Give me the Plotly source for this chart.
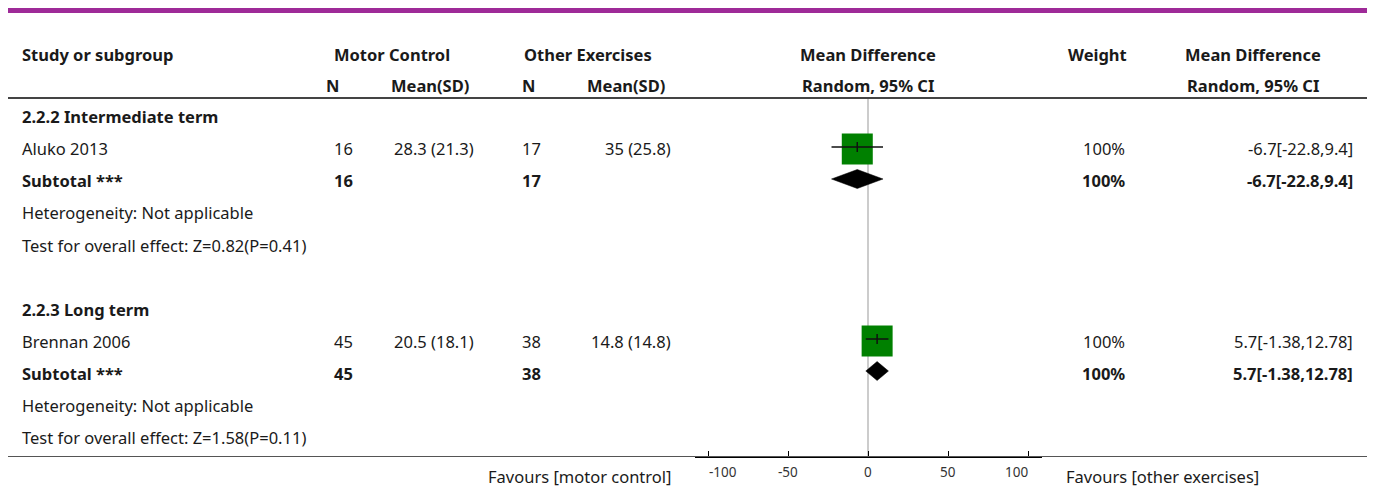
import plotly.graph_objects as go

# ---------------- data ----------------
subgroups = ["2.2.2 Intermediate term", "2.2.3 Long term"]
studies = ["Aluko 2013", "Brennan 2006"]
mc_n = [16, 45]
mc_mean = [28.3, 20.5]
mc_sd = [21.3, 18.1]
oe_n = [17, 38]
oe_mean = [35, 14.8]
oe_sd = [25.8, 14.8]
md = [-6.7, 5.7]
ci_lo = [-22.8, -1.38]
ci_hi = [9.4, 12.78]
weights = ["100%", "100%"]
heterogeneity = ["Not applicable", "Not applicable"]
z_vals = [0.82, 1.58]
p_vals = [0.41, 0.11]
axis_ticks = [-100, -50, 0, 50, 100]
left_label = "Favours [motor control]"
right_label = "Favours [other exercises]"

# ---------------- layout helpers ----------------
VW, VH = 1375, 488          # browser window
OFF = 8                     # default page body margin
W, H = VW - OFF, VH - OFF   # figure size
FONT = "Noto Sans"
FS = 16.5
TXT = "#1a1a1a"


def px(x):
    return (x - OFF) / W


def py(y):
    return 1 - (y - OFF) / H


annotations = []


def txt(x, y, s, anchor="left", bold=False, size=FS, family=FONT, color=TXT):
    if anchor == "left":
        x -= 2
    elif anchor == "right":
        x += 2
    annotations.append(dict(
        x=px(x), y=py(y), xref="paper", yref="paper", text=(f"<b>{s}</b>" if bold else s),
        showarrow=False, xanchor=anchor, yanchor="middle",
        font=dict(family=family, size=size, color=color)))


# header
txt(22, 55, "Study or subgroup", bold=True)
txt(392, 55, "Motor Control", "center", bold=True)
txt(588, 55, "Other Exercises", "center", bold=True)
txt(868, 55, "Mean Difference", "center", bold=True)
txt(1097, 55, "Weight", "center", bold=True)
txt(1253, 55, "Mean Difference", "center", bold=True)
txt(332, 86, "N", "center", bold=True)
txt(430, 86, "Mean(SD)", "center", bold=True)
txt(528, 86, "N", "center", bold=True)
txt(626, 86, "Mean(SD)", "center", bold=True)
txt(868, 86, "Random, 95% CI", "center", bold=True)
txt(1253, 86, "Random, 95% CI", "center", bold=True)

ROW0, DY = 117, 32
study_y = []
for g in range(len(subgroups)):
    base = ROW0 + g * 6 * DY
    y_head, y_study, y_sub, y_het, y_test = [base + k * DY for k in range(5)]
    study_y.append((y_study, y_sub))
    txt(22, y_head, subgroups[g], bold=True)
    # study row
    txt(22, y_study, studies[g])
    txt(353, y_study, f"{mc_n[g]}", "right")
    txt(474, y_study, f"{mc_mean[g]:g} ({mc_sd[g]:g})", "right")
    txt(541, y_study, f"{oe_n[g]}", "right")
    txt(671, y_study, f"{oe_mean[g]:g} ({oe_sd[g]:g})", "right")
    txt(1125, y_study, weights[g], "right")
    txt(1353, y_study, f"{md[g]:g}[{ci_lo[g]:g},{ci_hi[g]:g}]", "right")
    # subtotal row
    txt(22, y_sub, "Subtotal ***", bold=True)
    txt(353, y_sub, f"{mc_n[g]}", "right", bold=True)
    txt(541, y_sub, f"{oe_n[g]}", "right", bold=True)
    txt(1125, y_sub, weights[g], "right", bold=True)
    txt(1353, y_sub, f"{md[g]:g}[{ci_lo[g]:g},{ci_hi[g]:g}]", "right", bold=True)
    txt(22, y_het, f"Heterogeneity: {heterogeneity[g]}")
    txt(22, y_test, f"Test for overall effect: Z={z_vals[g]:.2f}(P={p_vals[g]:.2f})")

txt(671, 476, left_label, "right")
txt(1066, 476, right_label, "left")

# tick labels (extremes pulled inward as in the reference)
for t in axis_ticks:
    shift = 15 if t == axis_ticks[0] else (-12 if t == axis_ticks[-1] else 0)
    annotations.append(dict(
        x=t, y=py(472), xref="x", yref="paper", text=str(t), showarrow=False,
        xanchor="center", yanchor="middle", xshift=shift,
        font=dict(family="Noto Sans", size=13.5, color="#333")))

fig = go.Figure()

# squares
fig.add_trace(go.Scatter(
    x=md, y=[s[0] for s in study_y], mode="markers",
    marker=dict(symbol="square", size=31, color="#008000", line=dict(width=0)),
    hoverinfo="skip", showlegend=False, cliponaxis=False))

# CI lines + centre ticks + diamonds
for g in range(len(studies)):
    ys, ysub = study_y[g]
    ys = ys - 2
    fig.add_trace(go.Scatter(
        x=[ci_lo[g], ci_hi[g]], y=[ys, ys], mode="lines",
        line=dict(color="#111", width=1.5), hoverinfo="skip", showlegend=False))
    fig.add_trace(go.Scatter(
        x=[md[g], md[g]], y=[ys - 5, ys + 5], mode="lines",
        line=dict(color="#111", width=1.5), hoverinfo="skip", showlegend=False))
    yd = ysub - 2
    fig.add_trace(go.Scatter(
        x=[ci_lo[g], md[g], ci_hi[g], md[g], ci_lo[g]],
        y=[yd, yd - 9.5, yd, yd + 9.5, yd],
        mode="lines", fill="toself", fillcolor="black",
        line=dict(color="black", width=0.5), hoverinfo="skip", showlegend=False))

shapes = [
    # purple top band
    dict(type="rect", xref="paper", yref="paper", x0=px(5), x1=px(1368), y0=py(13), y1=py(4),
         fillcolor="#9E2A98", line=dict(width=0), layer="below"),
    # header rule
    dict(type="line", xref="paper", yref="paper", x0=px(5), x1=px(1368), y0=py(98), y1=py(98),
         line=dict(color="#444", width=2)),
    # bottom rule
    dict(type="line", xref="paper", yref="paper", x0=px(5), x1=px(1368), y0=py(456.5), y1=py(456.5),
         line=dict(color="#555", width=1)),
    # zero line
    dict(type="line", xref="x", yref="y", x0=0, x1=0, y0=98, y1=456,
         line=dict(color="#999", width=1), layer="below"),
]

fig.update_layout(
    width=W, height=H, margin=dict(l=0, r=0, t=0, b=0),
    paper_bgcolor="white", plot_bgcolor="white",
    showlegend=False, annotations=annotations, shapes=shapes,
    xaxis=dict(domain=[px(695), px(1042)], range=[(695 - 868) / 1.6, (1042 - 868) / 1.6],
               showgrid=False, zeroline=False, showline=True, linecolor="black", linewidth=2,
               ticks="inside", ticklen=5, tickcolor="black", tickwidth=1,
               tickvals=axis_ticks, showticklabels=False, fixedrange=True),
    yaxis=dict(domain=[py(456), 1], range=[456, OFF], showgrid=False, zeroline=False,
               showline=False, showticklabels=False, ticks="", fixedrange=True),
)

fig.write_html("out.html")
